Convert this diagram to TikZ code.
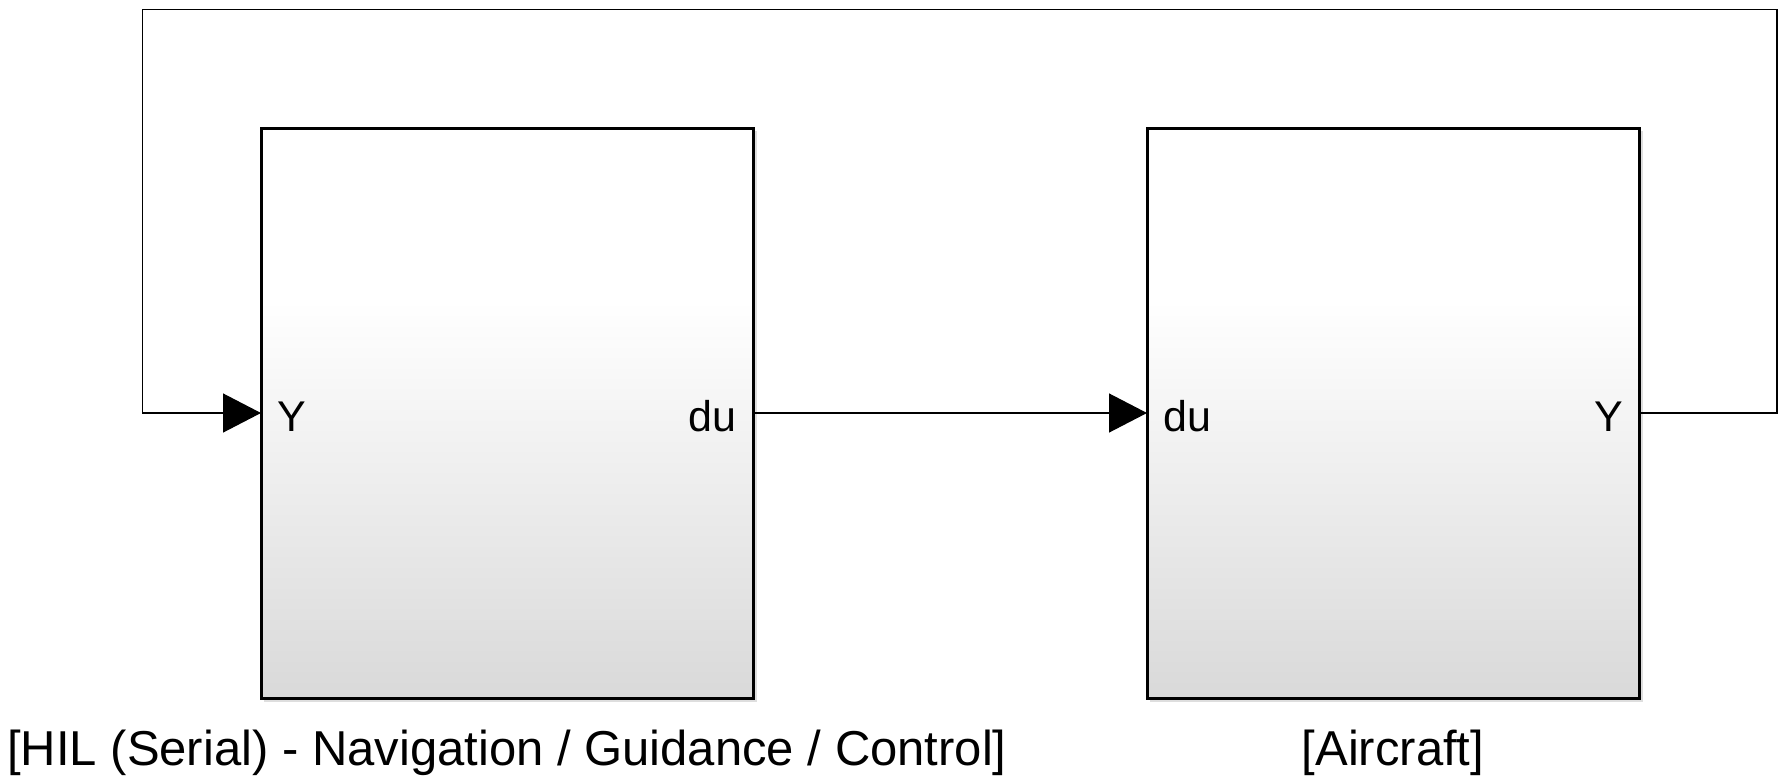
\documentclass[tikz,border=0pt]{standalone}
\usepackage{fontspec}
\setmainfont{Liberation Sans}
\usetikzlibrary{arrows.meta}
\definecolor{blkbot}{RGB}{217,217,217}
\definecolor{shadowc}{RGB}{200,200,200}
\tikzset{
  blockbox/.style={draw=black, line width=3pt, minimum width=492pt, minimum height=570pt, inner sep=0pt, outer sep=0pt},
  portlbl/.style={font=\fontsize{43}{50}\selectfont, inner sep=0pt},
  captionlbl/.style={font=\fontsize{49}{56}\selectfont, inner sep=0pt},
  wire/.style={line width=1.3pt, draw=black},
  sig/.style={wire, -{Triangle[length=38pt,width=39pt]}}
}
\begin{document}
\begin{tikzpicture}[x=1pt,y=-1pt]
\useasboundingbox (0,0) rectangle (1788,779);
% shadows
\fill[shadowc, opacity=0.6] (264,131) rectangle (757,702);
\fill[shadowc, opacity=0.6] (1150,131) rectangle (1643,702);
% shaded fills
\fill[white] (261,128) rectangle (753,698);
\shade[top color=white, bottom color=blkbot] (261,300) rectangle (753,698);
\fill[white] (1147,128) rectangle (1639,698);
\shade[top color=white, bottom color=blkbot] (1147,300) rectangle (1639,698);
% blocks
\node[blockbox] (hil) at (507,413) {};
\node[blockbox] (ac) at (1393,413) {};
% port labels
\node[portlbl, anchor=base west] (hilY) at (277,431) {Y};
\node[portlbl, anchor=base east] (hildu) at (737,431) {du};
\node[portlbl, anchor=base west] (acdu) at (1163,431) {du};
\node[portlbl, anchor=base east] (acY) at (1623,431) {Y};
% captions
\node[captionlbl, anchor=base] (hilcap) at (507,765) {[HIL (Serial) - Navigation / Guidance / Control]};
\node[captionlbl, anchor=base] (accap) at (1393,765) {[Aircraft]};
% connectors
\coordinate (c1) at (1777,413);
\coordinate (c2) at (1777,9.5);
\coordinate (c3) at (142.5,9.5);
\coordinate (c4) at (142.5,413);
\draw[sig] (hil.east) -- (ac.west);
\draw[sig] (ac.east) -- (c1) -- (c2) -- (c3) -- (c4) -- (hil.west);
\end{tikzpicture}
\end{document}
